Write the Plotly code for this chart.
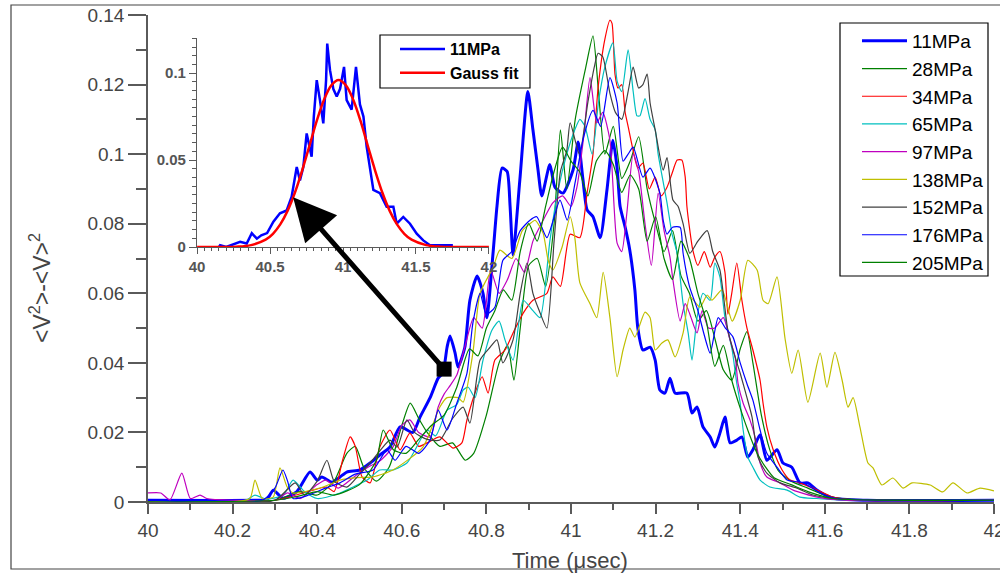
import plotly.graph_objects as go

# ---------------- data ----------------
series_names = ["11MPa", "28MPa", "34MPa", "65MPa", "97MPa", "138MPa", "152MPa", "176MPa", "205MPa"]
series_colors = ["#0000FF", "#008000", "#FF0000", "#00BFBF", "#BF00BF", "#BFBF00", "#404040", "#0000FF", "#008000"]
series_widths = [3, 1.2, 1.2, 1.2, 1.2, 1.2, 1.2, 1.2, 1.2]

x_11 = [40.0, 40.27, 40.281, 40.296, 40.319, 40.352, 40.383, 40.400, 40.411, 40.435, 40.454, 40.470, 40.501, 40.525, 40.548, 40.572,
        40.596, 40.626, 40.643, 40.667, 40.686, 40.697, 40.707, 40.714, 40.726, 40.733, 40.749, 40.761, 40.778, 40.792, 40.801,
        40.816, 40.825, 40.837, 40.849, 40.856, 40.863, 40.879, 40.898, 40.910, 40.922, 40.931, 40.950, 40.962, 40.981, 41.005,
        41.017, 41.028, 41.038, 41.052, 41.069, 41.085, 41.099, 41.109, 41.116, 41.128, 41.139, 41.151, 41.158, 41.170, 41.187,
        41.199, 41.210, 41.222, 41.234, 41.246, 41.274, 41.286, 41.298, 41.312, 41.329, 41.340, 41.352, 41.364, 41.376, 41.392,
        41.404, 41.418, 41.430, 41.447, 41.463, 41.487, 41.501, 41.522, 41.541, 41.560, 41.582, 41.619, 41.70, 42.0]
y_11 = [0.0005, 0.0005, 0.0006, 0.0034, 0.0011, 0.003, 0.0086, 0.0063, 0.0072, 0.0057, 0.0072, 0.0086, 0.0092, 0.0112, 0.0135, 0.0158,
        0.0216, 0.020, 0.0244, 0.030, 0.0356, 0.037, 0.0445, 0.0477, 0.0428, 0.0388, 0.0445, 0.058, 0.065, 0.060, 0.053,
        0.072, 0.085, 0.096, 0.095, 0.085, 0.071, 0.0925, 0.118, 0.107, 0.0955, 0.088, 0.097, 0.0905, 0.0888, 0.0955,
        0.1035, 0.093, 0.084, 0.082, 0.076, 0.0897, 0.104, 0.096, 0.085, 0.079, 0.0724, 0.061, 0.050, 0.0437, 0.0445,
        0.0408, 0.0322, 0.0313, 0.0356, 0.0313, 0.0313, 0.0256, 0.0273, 0.0216, 0.0187, 0.0158, 0.0198, 0.0244, 0.017, 0.0178,
        0.0187, 0.0129, 0.015, 0.0193, 0.012, 0.015, 0.0112, 0.010, 0.0055, 0.0055, 0.0034, 0.0011, 0.0005, 0.0005]

x_28 = [40.0, 40.30, 40.36, 40.40, 40.44, 40.47, 40.49, 40.51, 40.54, 40.57, 40.60, 40.62, 40.64, 40.66, 40.69, 40.72, 40.75, 40.77,
        40.80, 40.83, 40.85, 40.865, 40.88, 40.90, 40.92, 40.94, 40.96, 40.975, 40.99, 41.01, 41.035, 41.052, 41.065, 41.08, 41.10,
        41.12, 41.14, 41.16, 41.18, 41.20, 41.22, 41.24, 41.26, 41.28, 41.30, 41.32, 41.34, 41.36, 41.38, 41.40, 41.416, 41.43,
        41.45, 41.47, 41.49, 41.52, 41.56, 41.60, 41.65, 42.0]
y_28 = [0.0, 0.0005, 0.003, 0.002, 0.006, 0.014, 0.016, 0.010, 0.006, 0.010, 0.022, 0.0284, 0.024, 0.020, 0.016, 0.017, 0.012, 0.014,
        0.025, 0.040, 0.045, 0.035, 0.050, 0.068, 0.070, 0.062, 0.080, 0.107, 0.090, 0.110, 0.125, 0.134, 0.118, 0.100, 0.108,
        0.093, 0.098, 0.105, 0.090, 0.080, 0.072, 0.078, 0.065, 0.060, 0.052, 0.055, 0.047, 0.038, 0.035, 0.044, 0.049, 0.040,
        0.025, 0.015, 0.009, 0.006, 0.004, 0.002, 0.0008, 0.0005]

x_34 = [40.0, 40.30, 40.35, 40.39, 40.423, 40.44, 40.46, 40.478, 40.49, 40.506, 40.525, 40.548, 40.572, 40.596, 40.619, 40.64, 40.66,
        40.69, 40.721, 40.742, 40.754, 40.778, 40.79, 40.804, 40.820, 40.844, 40.863, 40.887, 40.91, 40.943, 40.957, 40.975, 40.998,
        41.021, 41.038, 41.052, 41.064, 41.080, 41.092, 41.097, 41.104, 41.111, 41.12, 41.128, 41.135, 41.147, 41.158, 41.170,
        41.185, 41.199, 41.213, 41.227, 41.239, 41.251, 41.262, 41.27, 41.274, 41.281, 41.288, 41.30, 41.315, 41.329, 41.34,
        41.352, 41.364, 41.371, 41.38, 41.392, 41.404, 41.416, 41.430, 41.447, 41.454, 41.463, 41.478, 41.499, 41.518, 41.541,
        41.572, 41.62, 41.68, 42.0]
y_34 = [0.0, 0.0005, 0.002, 0.0034, 0.0043, 0.003, 0.012, 0.0187, 0.016, 0.0072, 0.0055, 0.0158, 0.0207, 0.015, 0.0198, 0.016, 0.017,
        0.0187, 0.0155, 0.017, 0.0236, 0.033, 0.036, 0.0313, 0.0408, 0.0437, 0.0486, 0.0543, 0.058, 0.060, 0.0647, 0.062, 0.077,
        0.076, 0.0888, 0.100, 0.119, 0.133, 0.1385, 0.1376, 0.123, 0.119, 0.120, 0.112, 0.108, 0.101, 0.096, 0.0974,
        0.090, 0.0934, 0.088, 0.0905, 0.0945, 0.0983, 0.0983, 0.0934, 0.085, 0.078, 0.0724, 0.068, 0.072, 0.0675, 0.0704,
        0.072, 0.066, 0.054, 0.060, 0.0687, 0.058, 0.050, 0.0437, 0.035, 0.0284, 0.0216, 0.015, 0.0092, 0.0063, 0.0055,
        0.004, 0.0014, 0.0005, 0.0005]

x_65 = [40.0, 40.23, 40.253, 40.28, 40.32, 40.343, 40.37, 40.40, 40.454, 40.485, 40.518, 40.548, 40.579, 40.612, 40.627, 40.66, 40.68,
        40.707, 40.73, 40.745, 40.757, 40.773, 40.792, 40.813, 40.83, 40.844, 40.863, 40.887, 40.91, 40.927, 40.95, 40.97, 40.99,
        41.009, 41.021, 41.033, 41.05, 41.065, 41.08, 41.099, 41.109, 41.12, 41.135, 41.147, 41.156, 41.163, 41.175, 41.187, 41.199,
        41.206, 41.227, 41.239, 41.251, 41.265, 41.277, 41.286, 41.298, 41.312, 41.329, 41.340, 41.352, 41.364, 41.381, 41.392,
        41.400, 41.407, 41.418, 41.43, 41.447, 41.47, 41.511, 41.541, 41.58, 41.65, 42.0]
y_65 = [0.0, 0.0005, 0.002, 0.0008, 0.002, 0.0063, 0.003, 0.001, 0.0026, 0.0043, 0.0063, 0.0092, 0.0092, 0.0112, 0.014, 0.0207, 0.019,
        0.0264, 0.028, 0.0322, 0.033, 0.030, 0.0408, 0.0494, 0.052, 0.0466, 0.0408, 0.058, 0.055, 0.053, 0.075, 0.090, 0.100,
        0.107, 0.110, 0.108, 0.100, 0.115, 0.125, 0.132, 0.121, 0.118, 0.130, 0.118, 0.111, 0.111, 0.116, 0.110, 0.107,
        0.100, 0.086, 0.077, 0.0715, 0.057, 0.0486, 0.0408, 0.053, 0.060, 0.058, 0.0687, 0.0647, 0.053, 0.0437, 0.034,
        0.0284, 0.0207, 0.0129, 0.010, 0.0063, 0.0043, 0.0034, 0.0014, 0.001, 0.0005, 0.0005]

x_97 = [40.0, 40.03, 40.052, 40.08, 40.10, 40.123, 40.139, 40.2, 40.3, 40.33, 40.36, 40.40, 40.42, 40.45, 40.49, 40.52, 40.55, 40.58,
        40.60, 40.619, 40.64, 40.667, 40.686, 40.70, 40.715, 40.73, 40.75, 40.77, 40.79, 40.81, 40.83, 40.85, 40.87, 40.89, 40.91,
        40.93, 40.957, 40.98, 41.00, 41.014, 41.03, 41.045, 41.061, 41.075, 41.092, 41.109, 41.12, 41.132, 41.147, 41.16, 41.175,
        41.19, 41.206, 41.22, 41.234, 41.241, 41.258, 41.27, 41.281, 41.298, 41.31, 41.325, 41.340, 41.36, 41.375, 41.388, 41.395,
        41.407, 41.423, 41.435, 41.447, 41.463, 41.494, 41.525, 41.582, 41.65, 42.0]
y_97 = [0.0026, 0.0026, 0.0006, 0.0083, 0.001, 0.002, 0.001, 0.0005, 0.0005, 0.0026, 0.001, 0.005, 0.0063, 0.004, 0.0075, 0.010, 0.012, 0.016,
        0.022, 0.0236, 0.020, 0.0187, 0.0273, 0.031, 0.0336, 0.0365, 0.045, 0.053, 0.050, 0.0667, 0.060, 0.064, 0.070, 0.066, 0.075,
        0.080, 0.086, 0.088, 0.085, 0.0905, 0.105, 0.122, 0.109, 0.112, 0.104, 0.0744, 0.072, 0.083, 0.100, 0.095, 0.080,
        0.068, 0.0888, 0.078, 0.0704, 0.0638, 0.052, 0.057, 0.054, 0.0486, 0.055, 0.050, 0.050, 0.053, 0.047, 0.0417, 0.034,
        0.0284, 0.0236, 0.0187, 0.0112, 0.0072, 0.0055, 0.0034, 0.0014, 0.0005, 0.0005]

x_138 = [40.0, 40.2, 40.241, 40.253, 40.27, 40.296, 40.312, 40.329, 40.343, 40.414, 40.454, 40.494, 40.532, 40.579, 40.650, 40.690,
         40.707, 40.733, 40.745, 40.768, 40.785, 40.816, 40.832, 40.86, 40.885, 40.903, 40.915, 40.934, 40.946, 40.957, 40.979, 40.998,
         41.009, 41.021, 41.045, 41.061, 41.076, 41.092, 41.109, 41.123, 41.139, 41.151, 41.175, 41.187, 41.199, 41.215, 41.229,
         41.246, 41.265, 41.281, 41.305, 41.322, 41.333, 41.357, 41.381, 41.400, 41.418, 41.440, 41.454, 41.466, 41.487, 41.506,
         41.522, 41.537, 41.560, 41.589, 41.605, 41.624, 41.641, 41.655, 41.667, 41.683, 41.702, 41.714, 41.735, 41.761, 41.785,
         41.806, 41.849, 41.879, 41.903, 41.936, 41.967, 42.0]
y_138 = [0.0, 0.0, 0.001, 0.0063, 0.001, 0.0014, 0.0098, 0.0043, 0.0026, 0.0043, 0.0063, 0.007, 0.0072, 0.0092, 0.0158, 0.0273,
         0.030, 0.030, 0.0287, 0.0428, 0.060, 0.0675, 0.0724, 0.070, 0.078, 0.080, 0.081, 0.0773, 0.0695, 0.0667, 0.0733, 0.082,
         0.076, 0.063, 0.057, 0.053, 0.066, 0.053, 0.036, 0.0437, 0.050, 0.0474, 0.0546, 0.053, 0.0437, 0.0457, 0.0466,
         0.0417, 0.0486, 0.059, 0.056, 0.0595, 0.058, 0.061, 0.052, 0.058, 0.0695, 0.0667, 0.058, 0.057, 0.0647, 0.047,
         0.037, 0.0437, 0.0287, 0.0428, 0.033, 0.043, 0.035, 0.0273, 0.030, 0.0216, 0.0112, 0.0098, 0.0049, 0.0069, 0.004,
         0.0055, 0.0049, 0.0029, 0.0055, 0.0026, 0.004, 0.0032]

x_152 = [40.0, 40.30, 40.348, 40.37, 40.40, 40.423, 40.44, 40.47, 40.50, 40.53, 40.55, 40.572, 40.589, 40.612, 40.63, 40.66, 40.69,
         40.72, 40.745, 40.761, 40.785, 40.809, 40.825, 40.839, 40.863, 40.88, 40.896, 40.91, 40.925, 40.943, 40.96, 40.975, 40.99,
         40.998, 41.02, 41.04, 41.055, 41.064, 41.075, 41.092, 41.105, 41.12, 41.135, 41.147, 41.16, 41.17, 41.18, 41.187, 41.199,
         41.218, 41.227, 41.241, 41.253, 41.265, 41.281, 41.30, 41.322, 41.335, 41.352, 41.37, 41.383, 41.40, 41.416, 41.428,
         41.442, 41.463, 41.494, 41.534, 41.572, 41.62, 42.0]
y_152 = [0.0, 0.0005, 0.0055, 0.002, 0.006, 0.012, 0.006, 0.0043, 0.008, 0.012, 0.015, 0.0178, 0.0158, 0.0236, 0.020, 0.018, 0.0178,
         0.024, 0.0273, 0.0227, 0.0408, 0.0445, 0.0466, 0.040, 0.0466, 0.060, 0.0687, 0.060, 0.055, 0.050, 0.075, 0.095, 0.101,
         0.109, 0.100, 0.115, 0.125, 0.129, 0.128, 0.1175, 0.112, 0.110, 0.118, 0.125, 0.119, 0.120, 0.123, 0.1147, 0.107,
         0.0954, 0.099, 0.0868, 0.085, 0.080, 0.0715, 0.075, 0.078, 0.072, 0.0667, 0.050, 0.0437, 0.037, 0.030, 0.0244,
         0.0129, 0.0083, 0.0055, 0.004, 0.002, 0.001, 0.0005]

x_176 = [40.0, 40.27, 40.30, 40.319, 40.33, 40.343, 40.38, 40.42, 40.454, 40.49, 40.532, 40.565, 40.584, 40.61, 40.64, 40.667, 40.686,
         40.707, 40.73, 40.754, 40.768, 40.785, 40.80, 40.82, 40.839, 40.86, 40.88, 40.903, 40.919, 40.943, 40.974, 40.991, 41.01,
         41.03, 41.052, 41.07, 41.092, 41.109, 41.123, 41.135, 41.147, 41.17, 41.187, 41.21, 41.218, 41.227, 41.24, 41.258, 41.265,
         41.28, 41.30, 41.315, 41.329, 41.348, 41.365, 41.383, 41.40, 41.416, 41.43, 41.447, 41.463, 41.487, 41.511, 41.549,
         41.589, 41.63, 42.0]
y_176 = [0.0005, 0.0005, 0.004, 0.0092, 0.006, 0.001, 0.002, 0.004, 0.0055, 0.008, 0.0092, 0.015, 0.012, 0.016, 0.014, 0.0178, 0.0264,
         0.0207, 0.0284, 0.037, 0.0514, 0.060, 0.054, 0.056, 0.0695, 0.072, 0.078, 0.081, 0.082, 0.076, 0.0868, 0.081, 0.092,
         0.105, 0.1126, 0.108, 0.122, 0.1147, 0.098, 0.100, 0.102, 0.0934, 0.096, 0.0888, 0.081, 0.077, 0.079, 0.079, 0.0715,
         0.062, 0.055, 0.048, 0.0428, 0.053, 0.050, 0.0474, 0.040, 0.034, 0.0293, 0.0207, 0.014, 0.010, 0.0063, 0.0055,
         0.0026, 0.001, 0.0005]

x_205 = [40.0, 40.3, 40.35, 40.40, 40.44, 40.50, 40.54, 40.556, 40.58, 40.61, 40.64, 40.67, 40.70, 40.73, 40.76, 40.78, 40.80, 40.82,
         40.84, 40.86, 40.88, 40.90, 40.92, 40.94, 40.96, 40.98, 41.00, 41.02, 41.04, 41.06, 41.08, 41.10, 41.12, 41.14, 41.16,
         41.18, 41.20, 41.22, 41.24, 41.26, 41.28, 41.30, 41.32, 41.34, 41.36, 41.38, 41.40, 41.42, 41.44, 41.46, 41.48, 41.52,
         41.56, 41.62, 42.0]
y_205 = [0.0, 0.0005, 0.0015, 0.003, 0.002, 0.005, 0.012, 0.0207, 0.015, 0.014, 0.018, 0.022, 0.025, 0.033, 0.044, 0.042, 0.050, 0.055,
         0.061, 0.058, 0.072, 0.080, 0.075, 0.085, 0.095, 0.102, 0.098, 0.095, 0.088, 0.098, 0.101, 0.097, 0.089, 0.094, 0.090,
         0.075, 0.082, 0.070, 0.064, 0.075, 0.070, 0.060, 0.052, 0.039, 0.045, 0.035, 0.027, 0.020, 0.014, 0.010, 0.007, 0.005,
         0.003, 0.001, 0.0005]

series_x = [x_11, x_28, x_34, x_65, x_97, x_138, x_152, x_176, x_205]
series_y = [y_11, y_28, y_34, y_65, y_97, y_138, y_152, y_176, y_205]

# inset: 11MPa trace and its Gauss fit
inset_x = [40.15, 40.158, 40.20, 40.295, 40.34, 40.375, 40.41, 40.44, 40.48, 40.523, 40.568, 40.614, 40.648, 40.683, 40.705, 40.728,
           40.751, 40.785, 40.80, 40.82, 40.842, 40.865, 40.884, 40.892, 40.911, 40.934, 40.957, 40.98, 41.007, 41.025, 41.059,
           41.089, 41.116, 41.14, 41.162, 41.185, 41.208, 41.253, 41.299, 41.345, 41.368, 41.413, 41.459, 41.505, 41.55, 41.596, 41.753]
inset_y = [0.0, 0.001, 0.0, 0.003, 0.002, 0.0079, 0.0048, 0.0067, 0.008, 0.0146, 0.0194, 0.021, 0.0289, 0.046, 0.0383, 0.046,
           0.0653, 0.0519, 0.075, 0.096, 0.0845, 0.0711, 0.096, 0.117, 0.1017, 0.0908, 0.0866, 0.091, 0.1036, 0.0845, 0.079,
           0.1036, 0.082, 0.075, 0.0577, 0.0443, 0.0328, 0.031, 0.0232, 0.0232, 0.0134, 0.0173, 0.0134, 0.0077, 0.0038, 0.001, 0.001]
fit_x = [40.0, 40.27, 40.37, 40.47, 40.52, 40.57, 40.62, 40.67, 40.72, 40.77, 40.82, 40.87, 40.92, 40.97, 41.02, 41.07, 41.12, 41.17,
         41.22, 41.27, 41.32, 41.37, 41.42, 41.47, 41.57, 41.67, 42.0]
fit_y = [0.0, 0.0002, 0.0011, 0.0042, 0.0076, 0.013, 0.0208, 0.0312, 0.044, 0.0582, 0.0725, 0.0847, 0.093, 0.096, 0.093, 0.0847,
         0.0725, 0.0582, 0.044, 0.0312, 0.0208, 0.013, 0.0076, 0.0042, 0.0011, 0.0002, 0.0]

arrow_tail = (40.70, 0.0382)
arrow_tip = (40.343, 0.0876)

main_xticks = [40.0, 40.2, 40.4, 40.6, 40.8, 41.0, 41.2, 41.4, 41.6, 41.8, 42.0]
main_xticklabels = ["40", "40.2", "40.4", "40.6", "40.8", "41", "41.2", "41.4", "41.6", "41.8", "42"]
main_yticks = [0, 0.02, 0.04, 0.06, 0.08, 0.1, 0.12, 0.14]
main_yticklabels = ["0", "0.02", "0.04", "0.06", "0.08", "0.1", "0.12", "0.14"]
inset_xticks = [40, 40.5, 41, 41.5, 42]
inset_xticklabels = ["40", "40.5", "41", "41.5", "42"]
inset_yticks = [0, 0.05, 0.1]
inset_yticklabels = ["0", "0.05", "0.1"]

# ---------------- figure ----------------
FONT = "Liberation Sans, Arial, sans-serif"
AX = "#5a5a5a"
TXT = "#444444"

def px_x(p):
    return (p - 148) / 846

def px_y(p):
    return (502 - p) / 487

fig = go.Figure()
for name, col, w, xs, ys in zip(series_names, series_colors, series_widths, series_x, series_y):
    fig.add_trace(go.Scatter(x=xs, y=ys, mode="lines", name=name, legendgroup=name,
                             line=dict(color=col, width=w, shape="spline", smoothing=0.6),
                             xaxis="x", yaxis="y", legend="legend"))

fig.add_trace(go.Scatter(x=inset_x, y=inset_y, mode="lines", name="11MPa", line=dict(color="#0000FF", width=2.5),
                         xaxis="x2", yaxis="y2", legend="legend2"))
fig.add_trace(go.Scatter(x=fit_x, y=fit_y, mode="lines", name="Gauss fit", line=dict(color="#FF0000", width=2.5, shape="spline"),
                         xaxis="x2", yaxis="y2", legend="legend2"))

# square at arrow tail
fig.add_trace(go.Scatter(x=[arrow_tail[0]], y=[arrow_tail[1]], mode="markers", showlegend=False,
                         marker=dict(symbol="square", size=15, color="black"), xaxis="x", yaxis="y"))

fig.add_annotation(x=arrow_tip[0], y=arrow_tip[1], ax=arrow_tail[0], ay=arrow_tail[1], xref="x", yref="y",
                   axref="x", ayref="y", showarrow=True, arrowhead=2, arrowsize=1.7, arrowwidth=5,
                   arrowcolor="black", text="")

axis_common = dict(showline=True, linecolor=AX, linewidth=1.5, ticks="outside", tickcolor=AX, tickwidth=1.5,
                   showgrid=False, zeroline=False, automargin=False, ticklabeloverflow="allow",
                   tickfont=dict(family=FONT, size=19, color=TXT))

fig.update_layout(
    width=1000, height=573,
    margin=dict(l=148, r=6, t=15, b=71, autoexpand=False),
    paper_bgcolor="white", plot_bgcolor="white",
    showlegend=True,
    xaxis=dict(domain=[0, 1], range=[40, 42], tickvals=main_xticks, ticktext=main_xticklabels, ticklen=10,
               minor=dict(dtick=0.1, tick0=40, ticklen=6, ticks="outside", tickcolor=AX, tickwidth=1.5), **axis_common),
    yaxis=dict(domain=[0, 1], range=[0, 0.14], tickvals=main_yticks, ticktext=main_yticklabels, ticklen=18,
               minor=dict(dtick=0.01, tick0=0, ticklen=10, ticks="outside", tickcolor=AX, tickwidth=1.5), **axis_common),
    xaxis2=dict(domain=[0.058, 0.403], range=[40, 42], anchor="y2", tickvals=inset_xticks, ticktext=inset_xticklabels,
                ticklen=6, showline=True, linecolor=AX, linewidth=1.2, ticks="outside", tickcolor=AX, tickwidth=1.2,
                showgrid=False, zeroline=False,
                minor=dict(dtick=0.05, tick0=40, ticklen=3, ticks="outside", tickcolor=AX, tickwidth=1),
                tickfont=dict(family=FONT, size=15, color="#555555", weight="bold")),
    yaxis2=dict(domain=[0.5236, 0.952], range=[0, 0.12], anchor="x2", tickvals=inset_yticks, ticktext=inset_yticklabels,
                ticklen=7, showline=True, linecolor=AX, linewidth=1.2, ticks="outside", tickcolor=AX, tickwidth=1.2,
                showgrid=False, zeroline=False,
                minor=dict(dtick=0.005, tick0=0, ticklen=4, ticks="outside", tickcolor=AX, tickwidth=1),
                tickfont=dict(family=FONT, size=15, color="#555555", weight="bold")),
    legend=dict(x=px_x(857), y=px_y(22), xanchor="left", yanchor="top", bgcolor="rgba(0,0,0,0)", borderwidth=0,
                font=dict(family=FONT, size=19, color="black"), tracegroupgap=0, itemwidth=45),
    legend2=dict(x=px_x(395), y=px_y(32), xanchor="left", yanchor="top", bgcolor="rgba(0,0,0,0)", borderwidth=0,
                 font=dict(family=FONT, size=16, color="black", weight="bold"), tracegroupgap=0, itemwidth=45),
)

# legend boxes and outer frame
fig.add_shape(type="rect", xref="paper", yref="paper", x0=px_x(840), x1=px_x(988),
              y0=px_y(276), y1=px_y(23), line=dict(color="black", width=1.2), fillcolor="rgba(0,0,0,0)", layer="above")
fig.add_shape(type="rect", xref="paper", yref="paper", x0=px_x(380), x1=px_x(530),
              y0=px_y(88), y1=px_y(35), line=dict(color="black", width=1.2), fillcolor="rgba(0,0,0,0)", layer="above")
fig.add_shape(type="path", xref="paper", yref="paper",
              path=f"M {px_x(1003)} {px_y(5)} L {px_x(11)} {px_y(5)} L {px_x(11)} {px_y(569)} L {px_x(1003)} {px_y(569)}",
              line=dict(color="#444444", width=1.2))

fig.add_annotation(text="Time (\u03bcsec)", xref="paper", yref="paper", x=px_x(570), y=px_y(560),
                   xanchor="center", yanchor="middle",
                   showarrow=False, font=dict(family=FONT, size=22, color=TXT))
fig.add_annotation(text="&lt;V<sup>2</sup>&gt;-&lt;V&gt;<sup>2</sup>", xref="paper", yref="paper",
                   x=px_x(40), y=px_y(288), xanchor="center", yanchor="middle", textangle=-90, showarrow=False,
                   font=dict(family=FONT, size=23, color=TXT))

fig.write_html("out.html")
